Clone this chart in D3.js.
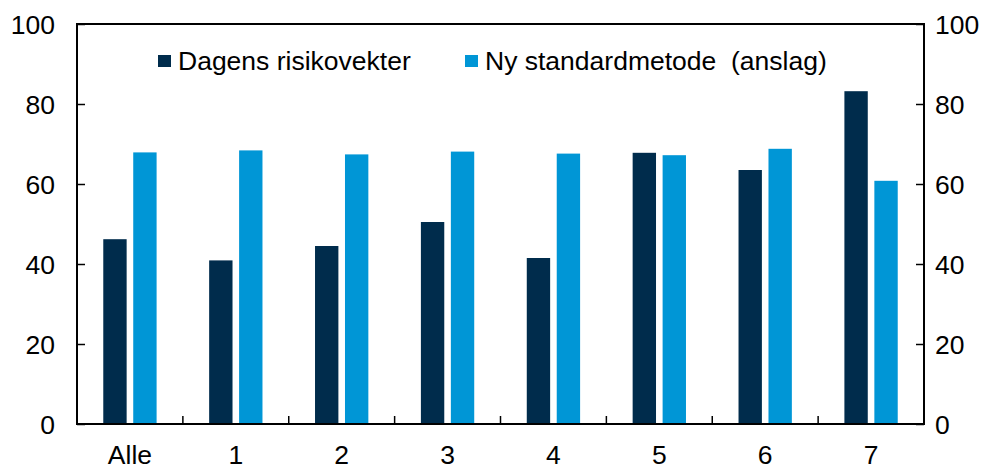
<!DOCTYPE html>
<html><head><meta charset="utf-8">
<script src="https://cdn.jsdelivr.net/npm/d3@7"></script>
<style>body{margin:0;background:#fff}svg{display:block}text{font-family:"Liberation Sans",Arial,sans-serif;fill:#000}</style>
</head><body><svg id="c" width="998" height="466"></svg>
<script>
const categories = ["Alle","1","2","3","4","5","6","7"];
const seriesNames = ["Dagens risikovekter","Ny standardmetode  (anslag)"];
const dagens = [46.2,40.9,44.5,50.5,41.5,67.8,63.5,83.2];
const nyStandard = [67.9,68.4,67.4,68.1,67.6,67.2,68.8,60.8];
const yTicks = [0,20,40,60,80,100];
const colors = ["#002c4c","#0096d6"];

const svg = d3.select("#c");
const L = 77, R = 924, T = 24, B = 424;
const x = d3.scaleBand().domain(categories).range([L,R]);
const inner = d3.scaleBand().domain([0,1]).range([0,x.bandwidth()]).paddingInner(0.22).paddingOuter(0.877);
const y = d3.scaleLinear().domain([0,100]).range([B,T]);

const data = categories.map((c,i)=>({c, v:[dagens[i], nyStandard[i]]}));
const g = svg.append("g");
data.forEach(d=>{
  d.v.forEach((v,j)=>{
    g.append("rect").attr("x", x(d.c)+inner(j)).attr("width", inner.bandwidth())
      .attr("y", y(v)).attr("height", B - y(v)).attr("fill", colors[j]);
  });
});

// frame
svg.append("rect").attr("x",L).attr("y",T).attr("width",R-L).attr("height",B-T)
  .attr("fill","none").attr("stroke","#000").attr("stroke-width",2);

const fs = "26.5px";
const left = svg.append("g").attr("transform",`translate(${L},0)`)
  .call(d3.axisRight(y).tickValues(yTicks).tickSize(8).tickFormat(""));
const right = svg.append("g").attr("transform",`translate(${R},0)`)
  .call(d3.axisLeft(y).tickValues(yTicks).tickSize(8).tickFormat(""));
[left,right].forEach(a=>{a.select(".domain").remove(); a.selectAll("line").attr("stroke","#000").attr("stroke-width",1.5);});

svg.append("g").selectAll("text").data(yTicks).join("text")
  .attr("x",55).attr("y",d=>y(d)).attr("dy","0.36em").attr("text-anchor","end")
  .style("font-size",fs).text(d=>d);
svg.append("g").selectAll("text").data(yTicks).join("text")
  .attr("x",935).attr("y",d=>y(d)).attr("dy","0.36em").attr("text-anchor","start")
  .style("font-size",fs).text(d=>d);

// bottom ticks at band boundaries
const bounds = categories.slice(1).map(c=>x(c));
svg.append("g").selectAll("line").data(bounds).join("line")
  .attr("x1",d=>d).attr("x2",d=>d).attr("y1",B).attr("y2",B-8)
  .attr("stroke","#000").attr("stroke-width",1.5);

svg.append("g").selectAll("text").data(categories).join("text")
  .attr("x",d=>x(d)+x.bandwidth()/2).attr("y",464).attr("text-anchor","middle")
  .style("font-size",fs).text(d=>d);

// legend
const leg = [{x:158,name:seriesNames[0],c:colors[0]},{x:465,name:seriesNames[1],c:colors[1]}];
leg.forEach(l=>{
  svg.append("rect").attr("x",l.x).attr("y",55).attr("width",13).attr("height",12).attr("fill",l.c);
  svg.append("text").attr("x",l.x+20).attr("y",70).style("font-size",fs).attr("xml:space","preserve").style("white-space","pre").text(l.name);
});
</script></body></html>
